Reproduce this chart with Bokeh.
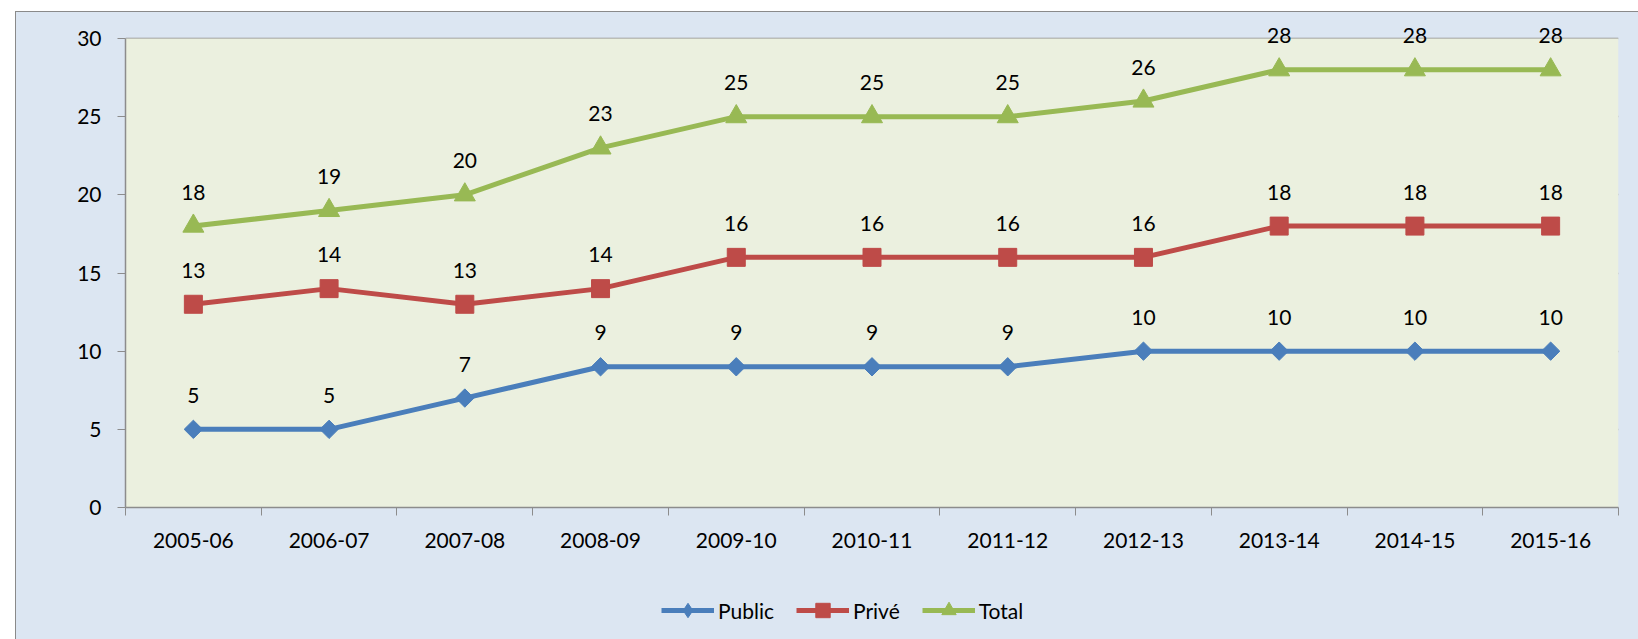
import math
from bokeh.plotting import figure
from bokeh.models import (BoxAnnotation, ColumnDataSource, FixedTicker, Legend,
                          LegendItem, Range1d, Spacer)
from bokeh.layouts import column, row
from bokeh.core.properties import value
from bokeh.embed import file_html
from bokeh.resources import INLINE

categories = ["2005-06", "2006-07", "2007-08", "2008-09", "2009-10", "2010-11",
              "2011-12", "2012-13", "2013-14", "2014-15", "2015-16"]
public = [5, 5, 7, 9, 9, 9, 9, 10, 10, 10, 10]
prive = [13, 14, 13, 14, 16, 16, 16, 16, 18, 18, 18]
total = [18, 19, 20, 23, 25, 25, 25, 26, 28, 28, 28]
y_ticks = [0, 5, 10, 15, 20, 25, 30]
Y_MAX = 30

FONT = "Lato"
OUTER = "#DCE6F2"
INNER = "#EBF0DF"
GRID = "#8C8C8C"

xs = [i + 0.5 for i in range(len(categories))]

# plot area: 469 px for 30 units; frame extends 24 px above the top gridline for labels
px_per_unit = 469 / Y_MAX
y_top = Y_MAX + 24 / px_per_unit

p = figure(width=1622, height=560, output_backend="svg", toolbar_location=None,
           x_range=Range1d(0, len(categories)), y_range=Range1d(0, y_top),
           min_border_left=109, min_border_right=20, min_border_top=2, min_border_bottom=65)
p.background_fill_color = OUTER
p.border_fill_color = OUTER
p.outline_line_color = None
p.add_layout(BoxAnnotation(left=0, right=len(categories), bottom=0, top=Y_MAX,
                           fill_color=INNER, fill_alpha=1, line_color=None,
                           level="underlay"))

# axes
p.xaxis.ticker = FixedTicker(ticks=xs, minor_ticks=list(range(len(categories) + 1)))
p.xaxis.major_label_overrides = {x: c for x, c in zip(xs, categories)}
p.xaxis.major_tick_line_color = None
p.xaxis.major_tick_out = 0
p.xaxis.major_tick_in = 0
p.xaxis.minor_tick_line_color = GRID
p.xaxis.minor_tick_out = 8
p.xaxis.minor_tick_in = 0
p.xaxis.major_label_standoff = 17
p.yaxis.ticker = FixedTicker(ticks=y_ticks)
p.yaxis.bounds = (0, Y_MAX)
p.yaxis.minor_tick_line_color = None
p.yaxis.major_tick_out = 8
p.yaxis.major_tick_in = 0
p.yaxis.major_tick_line_color = GRID
p.yaxis.major_label_standoff = 16
for ax in (p.xaxis, p.yaxis):
    ax.axis_line_color = GRID
    ax.axis_line_width = 1.5
    ax.major_label_text_font = FONT
    ax.major_label_text_font_size = "21px"
    ax.major_label_text_color = "#000000"
p.xgrid.grid_line_color = None
p.ygrid.ticker = FixedTicker(ticks=y_ticks)
p.ygrid.grid_line_color = GRID
p.ygrid.grid_line_width = 1.5

# legend-only strip under the chart (its view range holds no data, only the legend)
pl = figure(width=1622, height=67, output_backend="svg", toolbar_location=None,
            x_range=Range1d(0, 1), y_range=Range1d(1000, 1001),
            min_border_left=109, min_border_right=20, min_border_top=0, min_border_bottom=0)
pl.axis.visible = False
pl.grid.visible = False
pl.background_fill_alpha = 0
pl.border_fill_alpha = 0
pl.outline_line_color = None

# name, values, colour, chart marker, size, angle, legend marker
series = [
    ("Public", public, "#4A7EBB", "square", 13, math.pi / 4, "diamond"),
    ("Privé", prive, "#BE4B48", "square", 18, 0, "square"),
    ("Total", total, "#98B954", "triangle", 21, 0, "triangle"),
]
items = []
for name, vals, color, marker, size, angle, lmarker in series:
    src = ColumnDataSource(dict(x=xs, y=vals, lbl=[str(v) for v in vals]))
    p.line("x", "y", source=src, line_color=color, line_width=5)
    p.scatter("x", "y", source=src, marker=marker, size=size, angle=angle,
              fill_color=color, line_color=color)
    p.text("x", "y", text="lbl", source=src, y_offset=-34,
           text_align="center", text_baseline="middle",
           text_font=value(FONT), text_font_size="21px", text_color="#000000")
    ln = pl.line("x", "y", source=src, line_color=color, line_width=5)
    sc = pl.scatter("x", "y", source=src, marker=lmarker, size=size,
                    fill_color=color, line_color=color)
    items.append(LegendItem(label=name, renderers=[ln, sc]))

legend = Legend(items=items, orientation="horizontal", location=(536, 11),
                background_fill_alpha=0, border_line_color=None,
                glyph_width=53, glyph_height=36, label_height=20, label_standoff=4,
                spacing=22, padding=0, margin=0,
                label_text_font=FONT, label_text_font_size="21px",
                label_text_color="#000000")
pl.add_layout(legend)

chart = column(p, pl, spacing=0,
               styles={"background-color": OUTER, "outline": "1.5px solid #8a8a8a"})
page = column(Spacer(height=12), row(Spacer(width=16), chart, spacing=0), spacing=0)
open("out.html", "w").write(file_html(page, INLINE))
